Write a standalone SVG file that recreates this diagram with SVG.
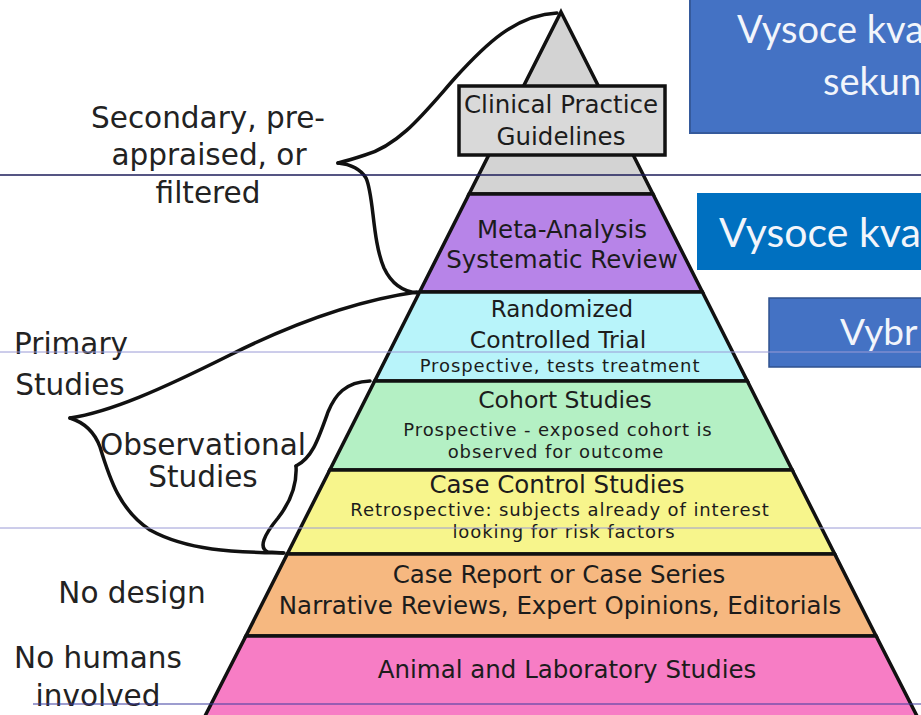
<svg xmlns="http://www.w3.org/2000/svg" width="921" height="715" viewBox="0 0 921 715">
<style>
.lay{stroke:#111;stroke-width:3.5;stroke-linejoin:miter}
.t{font-family:"DejaVu Sans","Liberation Sans",sans-serif;text-anchor:middle;fill:#1c1c1c}
.big{font-size:24.5px}
.sm{font-size:18px;letter-spacing:0.9px}
.lab{font-family:"DejaVu Sans","Liberation Sans",sans-serif;text-anchor:middle;fill:#222;font-size:29.5px}
.br{fill:none;stroke:#111;stroke-width:3.5;stroke-linecap:round;stroke-linejoin:round}
.bx{font-family:Lato,"Open Sans",sans-serif;fill:#f2f5fb}
</style>
<rect width="921" height="715" fill="#fff"/>

<g id="box-secondary">
<rect x="690" y="-3" width="240" height="136" fill="#4472c4" stroke="#355a9c" stroke-width="2"/>
<text class="bx" x="737" y="43" font-size="38">Vysoce kva</text>
<text class="bx" x="823" y="95" font-size="38">sekun</text>
</g>
<g id="box-primary">
<rect x="697" y="193" width="230" height="77" fill="#0070c0"/>
<text class="bx" x="719" y="247" font-size="41" fill="#fff">Vysoce kva</text>
</g>
<g id="box-selected">
<rect x="769" y="298" width="160" height="69" fill="#4472c4" stroke="#2f528f" stroke-width="1.5"/>
<text class="bx" x="840" y="345" font-size="37">Vybr</text>
</g>

<g id="layer-top">
<polygon class="lay" points="561,12 652.9,194 469.1,194" fill="#d3d3d3"/>
</g>
<g id="layer-meta">
<polygon class="lay" points="469.1,194 652.9,194 702.4,292 419.6,292" fill="#b784e8"/>
<text class="t big" x="562" y="238" fill="#2a1845">Meta-Analysis</text>
<text class="t big" x="562" y="268" fill="#2a1845">Systematic Review</text>
</g>
<g id="layer-rct">
<polygon class="lay" points="419.6,292 702.4,292 747.3,381 374.7,381" fill="#b8f4fa"/>
<text class="t" x="562" y="317" font-size="23">Randomized</text>
<text class="t" x="558" y="348" font-size="23.5">Controlled Trial</text>
<text class="t sm" x="560" y="372">Prospective, tests treatment</text>
</g>
<g id="layer-cohort">
<polygon class="lay" points="374.7,381 747.3,381 792.2,470 329.8,470" fill="#b4f0c4"/>
<text class="t" x="565" y="408" font-size="23.5">Cohort Studies</text>
<text class="t sm" x="558" y="436">Prospective - exposed cohort is</text>
<text class="t sm" x="556" y="458">observed for outcome</text>
</g>
<g id="layer-casecontrol">
<polygon class="lay" points="329.8,470 792.2,470 834.7,554 287.3,554" fill="#f7f58c"/>
<text class="t big" x="557" y="493">Case Control Studies</text>
<text class="t sm" x="560" y="516">Retrospective: subjects already of interest</text>
<text class="t sm" x="564" y="538">looking for risk factors</text>
</g>
<g id="layer-casereport">
<polygon class="lay" points="287.3,554 834.7,554 876.1,636 245.9,636" fill="#f6b880"/>
<text class="t big" x="559" y="583">Case Report or Case Series</text>
<text class="t big" x="560" y="614">Narrative Reviews, Expert Opinions, Editorials</text>
</g>
<g id="layer-animal">
<polygon class="lay" points="245.9,636 876.1,636 918,718 204,718" fill="#f77dc5"/>
<text class="t big" x="567" y="678" fill="#3e0f2c">Animal and Laboratory Studies</text>
</g>
<g id="cpg">
<rect x="459" y="86" width="206" height="69" fill="#d9d9d9" stroke="#111" stroke-width="3.5"/>
<text class="t big" x="561" y="113">Clinical Practice</text>
<text class="t big" x="561" y="145">Guidelines</text>
</g>

<g id="connectors">
<path class="br" d="M557 13 C515 15 485 45 455 78 C425 112 400 145 365 155 Q350 160 338 163"/>
<path class="br" d="M338 163 Q358 165 366 178 C374 195 372 240 384 268 C392 285 405 292 418 293"/>
<path class="br" d="M417 292 C360 300 300 320 230 355 C160 390 110 412 70 418"/>
<path class="br" d="M70 418 Q92 425 100 447 C110 480 120 510 150 530 C190 552 240 552 283 553"/>
<path class="br" d="M370 381 C345 382 335 395 328 412 C318 440 312 458 296 466"/>
<path class="br" d="M296 466 C297 482 292 500 278 518 C264 535 258 548 268 552 L284 553"/>
</g>

<g id="label-secondary">
<text class="lab" x="208" y="128">Secondary, pre-</text>
<text class="lab" x="209" y="165">appraised, or</text>
<text class="lab" x="208" y="203">filtered</text>
</g>
<g id="label-primary">
<text class="lab" x="71" y="354">Primary</text>
<text class="lab" x="70" y="395">Studies</text>
</g>
<g id="label-observational">
<text class="lab" x="203" y="455" font-size="27">Observational</text>
<text class="lab" x="203" y="487" font-size="27">Studies</text>
</g>
<g id="label-nodesign">
<text class="lab" x="132" y="603">No design</text>
</g>
<g id="label-nohumans">
<text class="lab" x="98" y="668">No humans</text>
<text class="lab" x="98" y="706">involved</text>
</g>

<g id="rules">
<line x1="0" y1="175" x2="921" y2="175" stroke="#1c1c5a" stroke-width="1.5"/>
<line x1="0" y1="352" x2="921" y2="352" stroke="#9a9ad6" stroke-width="1"/>
<line x1="0" y1="528" x2="921" y2="528" stroke="#9a9ad6" stroke-width="1"/>
<line x1="33" y1="704" x2="921" y2="704" stroke="#3c3ca0" stroke-width="1.2"/>
</g>
</svg>
